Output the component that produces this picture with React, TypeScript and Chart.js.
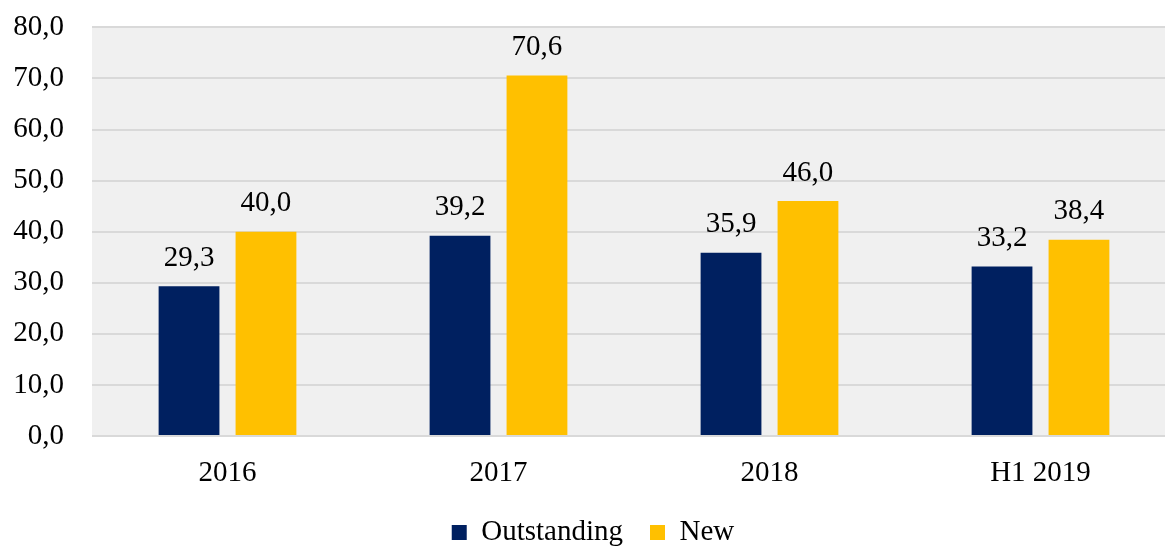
import React, { useEffect, useRef } from "react";
import { Chart, registerables } from "chart.js";

Chart.register(...registerables);

const categories = ["2016", "2017", "2018", "H1 2019"];
const outstanding = [29.3, 39.2, 35.9, 33.2];
const newValues = [40.0, 70.6, 46.0, 38.4];
const seriesNames = ["Outstanding", "New"];
const yMax = 80;
const yStep = 10;

const FONT = "'Liberation Serif', 'DejaVu Serif', serif";
const FS = 29;
const fmt = (v: number) => v.toFixed(1).replace(".", ",");

const bgPlugin = {
  id: "plotBg",
  beforeDraw(chart: any) {
    const { ctx, chartArea } = chart;
    ctx.save();
    ctx.fillStyle = "#f0f0f0";
    ctx.fillRect(chartArea.left, chartArea.top, chartArea.right - chartArea.left, chartArea.bottom - chartArea.top);
    ctx.restore();
  },
};

const labelPlugin = {
  id: "valueLabels",
  afterDatasetsDraw(chart: any) {
    const { ctx } = chart;
    ctx.save();
    ctx.font = `${FS}px ${FONT}`;
    ctx.fillStyle = "#000";
    ctx.textAlign = "center";
    ctx.textBaseline = "middle";
    chart.data.datasets.forEach((ds: any, i: number) => {
      const meta = chart.getDatasetMeta(i);
      meta.data.forEach((bar: any, j: number) => {
        ctx.fillText(fmt(ds.data[j]), bar.x, bar.y - 28);
      });
    });
    ctx.restore();
  },
};

export default function App() {
  const ref = useRef<HTMLCanvasElement>(null);
  useEffect(() => {
    if (!ref.current) return;
    const chart = new Chart(ref.current, {
      type: "bar",
      data: {
        labels: categories,
        datasets: [
          { label: seriesNames[0], data: outstanding, backgroundColor: "#002060", categoryPercentage: 0.568, barPercentage: 0.79 },
          { label: seriesNames[1], data: newValues, backgroundColor: "#FFC000", categoryPercentage: 0.568, barPercentage: 0.79 },
        ],
      },
      options: {
        animation: false,
        responsive: false,
        maintainAspectRatio: false,
        layout: { padding: { top: 0, left: 10, right: 0, bottom: 0 } },
        plugins: {
          tooltip: { enabled: false },
          legend: {
            position: "bottom",
            labels: {
              boxWidth: 15,
              boxHeight: 15,
              padding: 27,
              color: "#000",
              font: { family: FONT, size: FS },
            },
          },
        },
        scales: {
          x: {
            grid: { display: false },
            border: { display: false },
            ticks: { color: "#000", font: { family: FONT, size: FS }, padding: 12 },
            afterFit(scale: any) { scale.height = 55; },
          },
          y: {
            min: 0,
            max: yMax,
            ticks: {
              stepSize: yStep,
              color: "#000",
              font: { family: FONT, size: FS },
              padding: 10,
              callback: (v: any) => fmt(Number(v)),
            },
            grid: { color: "#d9d9d9", lineWidth: 2, drawTicks: true, tickLength: 18, tickColor: "rgba(0,0,0,0)" },
            border: { display: false },
            afterFit(scale: any) { scale.width = 82; },
          },
        },
      },
      plugins: [bgPlugin, labelPlugin],
    });
    return () => chart.destroy();
  }, []);
  return (
    <div style={{ position: "fixed", left: 0, top: 0, width: 1176, height: 557, background: "#fff" }}>
      <canvas ref={ref} width={1176} height={557} style={{ width: 1176, height: 557 }} />
    </div>
  );
}
